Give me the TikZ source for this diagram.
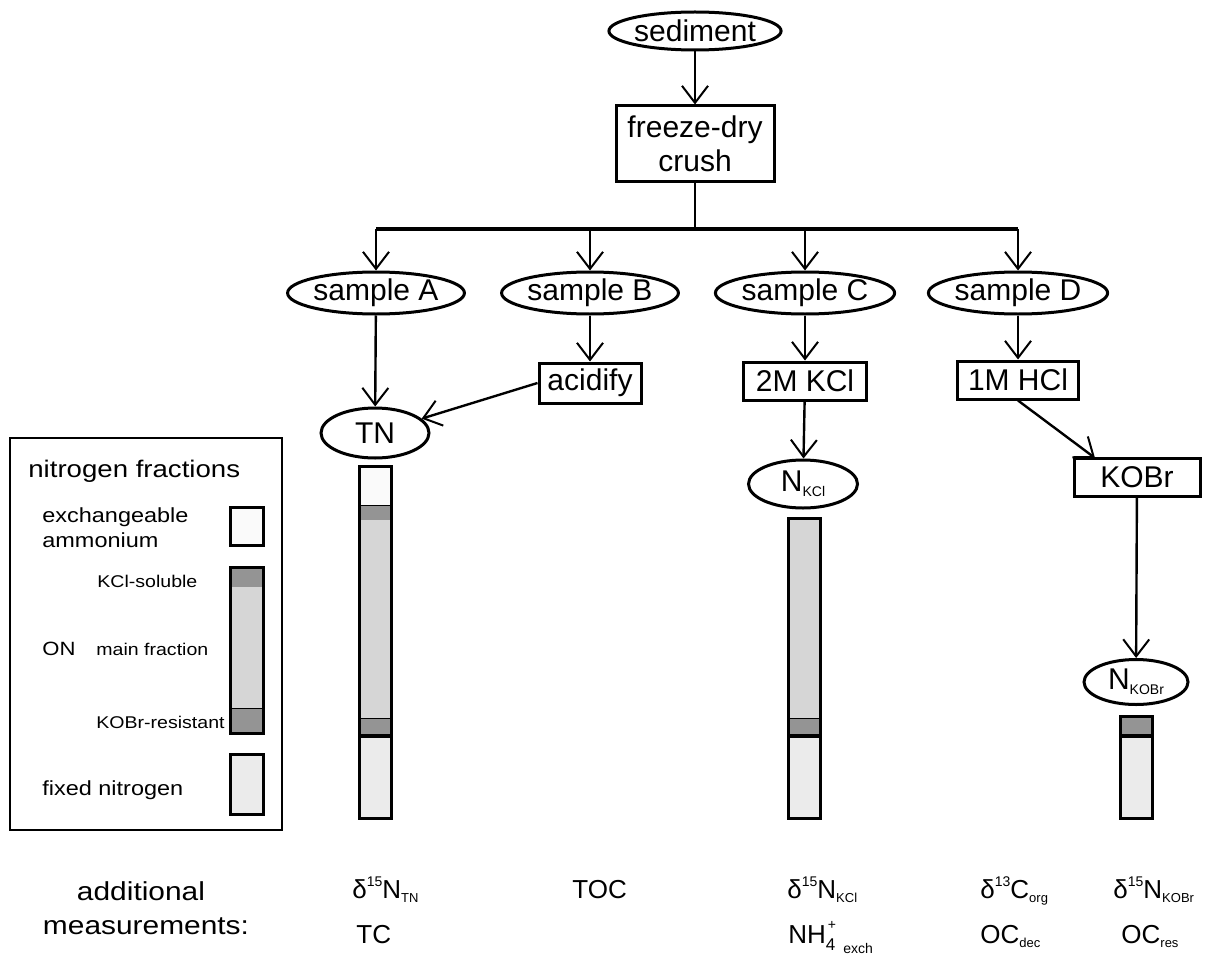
\documentclass[tikz,border=0pt]{standalone}
\usepackage{fontspec}
\setmainfont{Liberation Sans}
\newfontfamily\widefont[FakeStretch=1.15]{Liberation Sans}
\usetikzlibrary{shapes.geometric,arrows.meta}
\newcommand{\mysup}[1]{\raisebox{6pt}{\fontsize{7}{8}\selectfont #1}}
\newcommand{\mysub}[1]{\raisebox{-2pt}{\fontsize{6.5}{7}\selectfont #1}}
\newcommand{\nsub}[1]{\raisebox{-2.5pt}{\fontsize{7}{8}\selectfont #1}}
\tikzset{
  flow/.style={draw, line width=1.5pt, inner sep=0pt, font=\fontsize{15}{17}\selectfont, align=center},
  ell/.style={flow, ellipse},
  pbox/.style={flow, rectangle},
  arr/.style={line width=1.2pt, -{Straight Barb[length=8.5pt,width=13pt,line width=1pt]}},
  conn/.style={line width=1.2pt},
  lgtitle/.style={anchor=base west, inner sep=0pt, font=\widefont\fontsize{12}{14}\selectfont},
  lgtext/.style={anchor=base west, inner sep=0pt, font=\widefont\fontsize{10.2}{12}\selectfont},
  lgon/.style={anchor=base west, inner sep=0pt, font=\widefont\fontsize{9.6}{11}\selectfont},
  lgsmall/.style={anchor=base west, inner sep=0pt, font=\widefont\fontsize{8.5}{10}\selectfont},
  addl/.style={anchor=base, inner sep=0pt, font=\widefont\fontsize{13}{15}\selectfont},
  meas/.style={anchor=base west, inner sep=0pt, font=\fontsize{13}{15}\selectfont},
  exf/.style={fill=black!2},
  dkf/.style={fill=black!42},
  mnf/.style={fill=black!16},
  fxf/.style={fill=black!8},
  thinsep/.style={line width=0.5pt},
  thicksep/.style={line width=1.6pt},
  barborder/.style={line width=1.5pt}
}
\begin{document}
\begin{tikzpicture}[x=0.5pt, y={(0pt,-0.5pt)}]
\useasboundingbox (0,0) rectangle (1218,957);

% flow nodes
\node[ell, minimum width=72pt, minimum height=19pt] (sed) at (695,31) {sediment};
\node[pbox, minimum width=79pt, minimum height=38pt] (fd) at (695,144) {freeze-dry\\crush};
\node[ell, minimum width=78pt, minimum height=21pt] (sA) at (376,293) {sample A};
\node[ell, minimum width=80pt, minimum height=21pt] (sB) at (590,293) {sample B};
\node[ell, minimum width=80pt, minimum height=21pt] (sC) at (805,293) {sample C};
\node[ell, minimum width=80pt, minimum height=21pt] (sD) at (1018,293) {sample D};
\node[ell, minimum width=54pt, minimum height=25pt] (TN) at (375,433) {TN};
\node[pbox, minimum width=51pt, minimum height=20pt] (acid) at (590,383) {acidify};
\node[pbox, minimum width=61.5pt, minimum height=19pt] (kcl) at (805,381) {2M KCl};
\node[pbox, minimum width=60.5pt, minimum height=19pt] (hcl) at (1018,380) {1M HCl};
\node[ell, minimum width=54.5pt, minimum height=24pt] (NKCl) at (803,484) {N\nsub{KCl}};
\node[pbox, minimum width=63pt, minimum height=19pt] (kobr) at (1137,477) {KOBr};
\node[ell, minimum width=52pt, minimum height=22.5pt] (NKOBr) at (1136,682) {N\nsub{KOBr}};

% connectors
\draw[arr] (sed) -- (fd);
\coordinate (j) at (695,229);
\coordinate (jA) at (376,229);
\coordinate (jB) at (590,229);
\coordinate (jC) at (805,229);
\coordinate (jD) at (1018,229);
\draw[conn] (fd.south) -- (j);
\draw[line width=2pt] (jA) -- (jD);
\draw[arr] (jA) -- (sA);
\draw[arr] (jB) -- (sB);
\draw[arr] (jC) -- (sC);
\draw[arr] (jD) -- (sD);
\draw[arr] (sA) -- (TN);
\draw[arr] (sB) -- (acid);
\draw[arr] (sC) -- (kcl);
\draw[arr] (sD) -- (hcl);
\draw[arr] (acid.west) -- (TN);
\draw[arr] (kcl) -- (NKCl);
\coordinate (kobrin) at (1095,458);
\draw[arr] (hcl.south) -- (kobrin);
\draw[arr] (kobr) -- (NKOBr);

% TN bar
\fill[exf] (359,466) rectangle (391,505);
\fill[dkf] (359,505) rectangle (391,520);
\fill[mnf] (359,520) rectangle (391,718);
\fill[dkf] (359,718) rectangle (391,736);
\fill[fxf] (359,736) rectangle (391,818);
\draw[thinsep] (359,505) -- (391,505);
\draw[thinsep] (359,718) -- (391,718);
\draw[thicksep] (359,736) -- (391,736);
\draw[barborder] (359,466) rectangle (391,818);

% N_KCl bar
\fill[mnf] (788,518) rectangle (820,718);
\fill[dkf] (788,718) rectangle (820,736);
\fill[fxf] (788,736) rectangle (820,818);
\draw[thinsep] (788,718) -- (820,718);
\draw[thicksep] (788,736) -- (820,736);
\draw[barborder] (788,518) rectangle (820,818);

% N_KOBr bar
\fill[dkf] (1120,716) rectangle (1152,736);
\fill[fxf] (1120,736) rectangle (1152,818);
\draw[thicksep] (1120,736) -- (1152,736);
\draw[barborder] (1120,716) rectangle (1152,818);

% legend
\draw[line width=1.3pt] (10,438) rectangle (282,830);
\node[lgtitle] (lt) at (28,477) {nitrogen fractions};
\node[lgtext] (le1) at (42,522) {exchangeable};
\node[lgtext] (le2) at (42,547) {ammonium};
\node[lgsmall] (lk) at (97,587) {KCl-soluble};
\node[lgon] (lon) at (42,655) {ON};
\node[lgsmall] (lm) at (96,655) {main fraction};
\node[lgsmall] (lr) at (96,728) {KOBr-resistant};
\node[lgtext] (lf) at (42,795) {fixed nitrogen};
\fill[exf] (230,507) rectangle (263,545);
\draw[barborder] (230,507) rectangle (263,545);
\fill[dkf] (230,567) rectangle (263,587);
\fill[mnf] (230,587) rectangle (263,708);
\fill[dkf] (230,708) rectangle (263,733);
\draw[thinsep] (230,708) -- (263,708);
\draw[barborder] (230,567) rectangle (263,733);
\fill[fxf] (230,754) rectangle (263,814);
\draw[barborder] (230,754) rectangle (263,814);

% additional measurements
\node[addl] (am1) at (141,900) {additional};
\node[addl] (am2) at (146,934) {measurements:};
\node[meas] (m1) at (352,898) {δ\mysup{15}N\mysub{TN}};
\node[meas] (m2) at (356,943) {TC};
\node[meas] (m3) at (572,898) {TOC};
\node[meas] (m4) at (787,898) {δ\mysup{15}N\mysub{KCl}};
\node[meas] (m5) at (788,943) {NH\rlap{\raisebox{7pt}{\fontsize{7}{8}\selectfont\hspace{1pt}+}}\raisebox{-3.5pt}{\fontsize{8.5}{9}\selectfont 4}\hspace{4pt}\raisebox{-5pt}{\fontsize{7}{8}\selectfont exch}};
\node[meas] (m6) at (980,898) {δ\mysup{13}C\mysub{org}};
\node[meas] (m7) at (980,943) {OC\mysub{dec}};
\node[meas] (m8) at (1113,898) {δ\mysup{15}N\mysub{KOBr}};
\node[meas] (m9) at (1121,943) {OC\mysub{res}};
\end{tikzpicture}
\end{document}
